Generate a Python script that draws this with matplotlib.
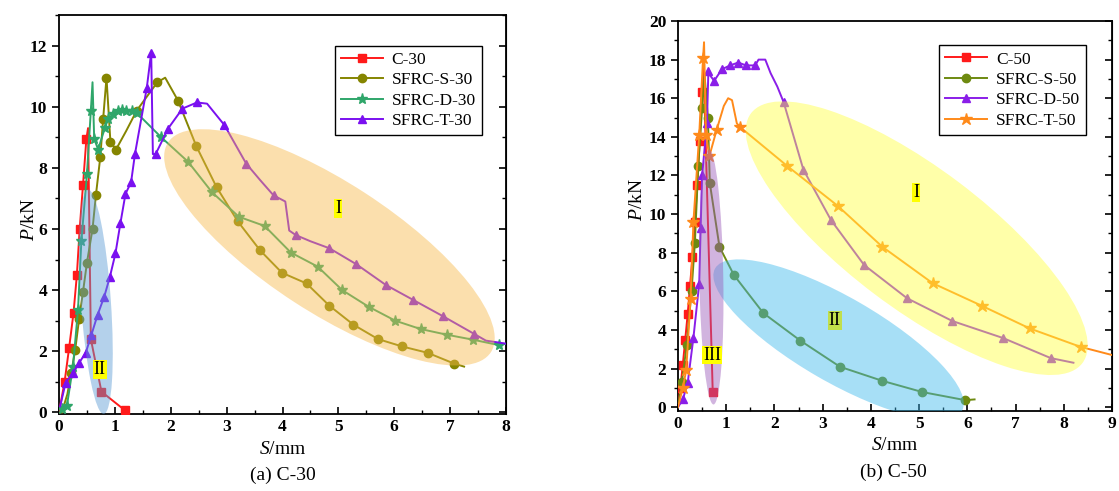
import matplotlib
matplotlib.use("Agg")
import matplotlib.pyplot as plt
from matplotlib.patches import Ellipse
from matplotlib.transforms import ScaledTranslation
from matplotlib.ticker import MultipleLocator

plt.rcParams['font.family'] = ['Liberation Serif', 'DejaVu Serif']
plt.rcParams['mathtext.fontset'] = 'custom'
plt.rcParams['mathtext.rm'] = 'Liberation Serif'
plt.rcParams['mathtext.it'] = 'Liberation Serif:italic'

# ---- (a) C-30 ----
c30_s = [0.0, 0.1, 0.18, 0.26, 0.32, 0.37, 0.43, 0.49, 0.52, 0.57, 0.76, 1.18]
c30_p = [0.0, 1.0, 2.1, 3.26, 4.5, 6.0, 7.45, 8.95, 9.3, 2.4, 0.68, 0.07]

s30_s = [0.05, 0.15, 0.22, 0.29, 0.36, 0.43, 0.5, 0.6, 0.66, 0.74, 0.79, 0.85, 0.92, 1.02, 1.2, 1.39, 1.6,
         1.76, 1.9, 2.13, 2.46, 2.82, 3.2, 3.6, 3.99, 4.43, 4.84, 5.27, 5.71, 6.14, 6.6, 7.07, 7.25]
s30_p = [0.0, 0.6, 1.3, 2.05, 3.06, 3.95, 4.9, 6.0, 7.1, 8.37, 9.6, 10.95, 8.86, 8.6, 9.2, 9.87, 10.4,
         10.8, 10.95, 10.2, 8.7, 7.37, 6.25, 5.3, 4.57, 4.22, 3.49, 2.87, 2.4, 2.16, 1.95, 1.6, 1.5]

d30_s = [0.05, 0.14, 0.25, 0.34, 0.4, 0.5, 0.57, 0.6, 0.63, 0.7, 0.82, 0.88, 0.97, 1.05, 1.12, 1.2, 1.3,
         1.39, 1.83, 2.31, 2.74, 3.22, 3.68, 4.15, 4.63, 5.07, 5.54, 6.02, 6.47, 6.95, 7.41, 7.88, 8.0]
d30_p = [0.1, 0.2, 1.5, 3.35, 5.6, 7.8, 9.87, 10.8, 8.95, 8.6, 9.3, 9.6, 9.77, 9.85, 9.9, 9.85, 9.85,
         9.8, 9.0, 8.2, 7.2, 6.4, 6.1, 5.23, 4.77, 4.0, 3.46, 3.0, 2.73, 2.54, 2.38, 2.2, 2.25]

t30_s = [0.02, 0.12, 0.25, 0.36, 0.48, 0.58, 0.69, 0.81, 0.91, 1.01, 1.1, 1.19, 1.29, 1.36, 1.57, 1.65,
         1.68, 1.73, 1.95, 2.21, 2.47, 2.65, 2.96, 3.35, 3.6, 3.84, 4.05, 4.12, 4.24, 4.5, 4.84, 5.32,
         5.85, 6.34, 6.88, 7.43, 7.64, 8.0]
t30_p = [0.2, 0.98, 1.3, 1.62, 1.96, 2.54, 3.19, 3.79, 4.43, 5.2, 6.2, 7.15, 7.53, 8.46, 10.6, 11.77,
         8.45, 8.45, 9.28, 9.94, 10.14, 10.1, 9.4, 8.14, 7.6, 7.1, 6.9, 5.95, 5.8, 5.6, 5.37, 4.85,
         4.17, 3.68, 3.14, 2.57, 2.35, 2.25]

# ---- (b) C-50 ----
c50_s = [0.0, 0.05, 0.1, 0.15, 0.2, 0.25, 0.3, 0.35, 0.4, 0.45, 0.5, 0.53, 0.72]
c50_p = [0.0, 1.0, 2.2, 3.5, 4.8, 6.3, 7.8, 9.6, 11.5, 13.8, 16.3, 17.6, 0.8]

s50_s = [0.0, 0.08, 0.18, 0.28, 0.35, 0.42, 0.5, 0.55, 0.62, 0.66, 0.86, 1.16, 1.77, 2.54, 3.36,
         4.24, 5.07, 5.96, 6.15]
s50_p = [0.0, 1.3, 3.2, 6.0, 8.5, 12.5, 15.5, 17.2, 15.0, 11.6, 8.3, 6.84, 4.87, 3.44, 2.09,
         1.36, 0.78, 0.36, 0.4]

d50_s = [0.0, 0.1, 0.2, 0.32, 0.44, 0.47, 0.5, 0.6, 0.63, 0.66, 0.75, 0.91, 1.08, 1.25, 1.41, 1.6,
         1.67, 1.81, 1.92, 2.06, 2.19, 2.6, 3.17, 3.86, 4.75, 5.69, 6.74, 7.73, 8.2]
d50_p = [0.0, 0.4, 1.24, 3.6, 6.4, 9.3, 12.0, 14.7, 17.4, 17.2, 16.9, 17.5, 17.7, 17.85, 17.7, 17.7,
         18.0, 18.0, 17.3, 16.6, 15.8, 12.3, 9.7, 7.36, 5.64, 4.46, 3.58, 2.54, 2.3]

t50_s = [0.0, 0.1, 0.17, 0.26, 0.32, 0.44, 0.52, 0.54, 0.58, 0.65, 0.8, 0.95, 1.04, 1.12, 1.22, 1.29,
         2.26, 3.31, 4.24, 5.28, 6.3, 7.29, 8.35, 9.0]
t50_p = [0.0, 1.0, 1.9, 5.6, 9.6, 14.1, 18.1, 18.9, 14.1, 13.0, 14.35, 15.6, 16.0, 15.9, 14.7, 14.5,
         12.5, 10.43, 8.3, 6.42, 5.25, 4.08, 3.12, 2.7]

W, H = 1119, 491
fig = plt.figure(figsize=(W / 100, H / 100), dpi=100)


def px_axes(x0, y0, x1, y1):
    return fig.add_axes([x0 / W, 1 - y1 / H, (x1 - x0) / W, (y1 - y0) / H])


def no_mark(n, skip):
    return [i for i in range(n) if i not in skip]


def series(ax, s, p, color, marker, ms, skip, label):
    ax.plot(s, p, color=color, lw=1.4, marker=marker, ms=ms, markevery=no_mark(len(s), skip),
            label=label, zorder=3)


def blob(ax, x, y, w, h, ang, color, alpha=0.45):
    # ellipse sized in pixels, centred on a data point
    tr = fig.dpi_scale_trans + ScaledTranslation(x, y, ax.transData)
    ax.add_patch(Ellipse((0, 0), w / 100, h / 100, angle=ang, transform=tr, fc=color,
                         ec='none', alpha=alpha, zorder=5))


def tag(ax, x, y, txt, bg, alpha=1.0):
    ax.text(x, y, txt, fontsize=13, ha='center', va='center', zorder=7,
            bbox=dict(boxstyle='square,pad=0.05', fc=bg, ec='none', alpha=alpha))


def style(ax, xmax, ymax, ystep, ymin):
    ax.set_xlim(0, xmax)
    ax.set_ylim(ymin, ymax)
    ax.xaxis.set_major_locator(MultipleLocator(1))
    ax.xaxis.set_minor_locator(MultipleLocator(0.5))
    ax.yaxis.set_major_locator(MultipleLocator(ystep))
    ax.yaxis.set_minor_locator(MultipleLocator(ystep / 2))
    ax.tick_params(axis='x', which='both', direction='in', top=False)
    ax.tick_params(axis='y', which='both', direction='out', right=False)
    ax.tick_params(which='major', length=5, width=1.2, labelsize=12.5)
    ax.tick_params(which='minor', length=3, width=1.0)
    for lab in ax.get_xticklabels() + ax.get_yticklabels():
        lab.set_fontweight('bold')
    for sp in ax.spines.values():
        sp.set_linewidth(1.3)
    # mirrored ticks on the right, pointing inward
    ry = ax.secondary_yaxis('right')
    ry.yaxis.set_major_locator(MultipleLocator(ystep))
    ry.yaxis.set_minor_locator(MultipleLocator(ystep / 2))
    ry.tick_params(which='both', direction='in', labelright=False)
    ry.tick_params(which='major', length=5, width=1.2)
    ry.tick_params(which='minor', length=3, width=1.0)


def legend(ax, anchor):
    ax.legend(loc='upper right', bbox_to_anchor=anchor, fontsize=12.5, frameon=True, fancybox=False,
              edgecolor='black', framealpha=1, handlelength=2.4, labelspacing=0.25,
              borderpad=0.35, handletextpad=0.5).set_zorder(8)


# left panel
ax1 = px_axes(59, 15, 506, 414)
series(ax1, c30_s, c30_p, '#ff1a1a', 's', 5.5, {0, 8}, 'C-30')
series(ax1, s30_s, s30_p, '#858500', 'o', 6, {0, 1, 14, 16, 18, 32}, 'SFRC-S-30')
series(ax1, d30_s, d30_p, '#2fa66a', '*', 8, {7, 32}, 'SFRC-D-30')
series(ax1, t30_s, t30_p, '#7a10f0', '^', 6, {0, 16, 21, 24, 26, 27, 29, 36, 37}, 'SFRC-T-30')
style(ax1, 8, 13, 2, -0.05)
blob(ax1, 4.84, 5.4, 385, 130, -33, '#f7b94a')
blob(ax1, 0.66, 3.62, 225, 30, 94, '#5a9ad4')
tag(ax1, 5.0, 6.68, 'I', '#ffff00')
tag(ax1, 0.73, 1.4, 'II', '#ffff00')
legend(ax1, (0.965, 0.945))

# right panel
ax2 = px_axes(678, 21, 1112, 411)
series(ax2, c50_s, c50_p, '#ff1a1a', 's', 5.5, {0, 11}, 'C-50')
series(ax2, s50_s, s50_p, '#6e8a10', 'o', 6, {0, 7, 18}, 'SFRC-S-50')
series(ax2, d50_s, d50_p, '#8a1ee8', '^', 6, {0, 9, 16, 17, 18, 19, 28}, 'SFRC-D-50')
series(ax2, t50_s, t50_p, '#ff8a1a', '*', 9, {0, 7, 11, 12, 13, 14, 23}, 'SFRC-T-50')
style(ax2, 9, 20, 2, -0.2)
blob(ax2, 4.95, 8.75, 415, 140, -37, '#ffff40')
blob(ax2, 3.33, 3.5, 285, 85, -30, '#3db8ec')
blob(ax2, 0.69, 6.74, 255, 24, 91, '#9a5ab8')
tag(ax2, 4.94, 11.1, 'I', '#ffff00')
tag(ax2, 3.25, 4.5, 'II', '#c8e020', 0.8)
tag(ax2, 0.71, 2.7, 'III', '#ffff00')
legend(ax2, (0.96, 0.96))

# axis labels and captions
for x, y, txt in [(30, 220, '$P$/kN'), (638, 200, '$P$/kN')]:
    fig.text(x / W, 1 - y / H, txt, rotation=90, ha='center', va='center', fontsize=14)
for x, y, txt in [(283, 450, '$S$/mm'), (895, 446, '$S$/mm'),
                  (283, 475, '(a) C-30'), (893, 472, '(b) C-50')]:
    fig.text(x / W, 1 - y / H, txt, ha='center', va='center', fontsize=14)

fig.savefig('out.png', dpi=100)
